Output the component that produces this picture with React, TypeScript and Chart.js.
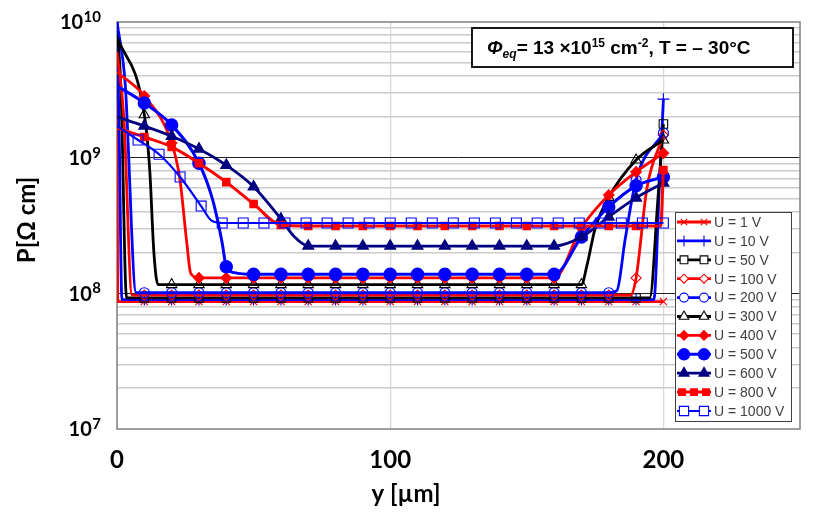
import React, { useEffect, useRef } from "react";
import { Chart, registerables } from "chart.js";
import { drawPoint } from "chart.js/helpers";

Chart.register(...registerables);

// ---------- data ----------
const X_TICKS = [0, 100, 200];
const Y_DECADES = [7, 8, 9, 10];

const MARKS_10 = [10, 20, 30, 40, 50, 60, 70, 80, 90, 100, 110, 120, 130, 140, 150, 160, 170, 180, 190, 200];
const MARKS_1000V = [7.7, 15.4, 23.1, 30.8, 38.5, 46.2, 53.8, 61.5, 69.2, 76.9, 84.6, 92.3, 100, 107.7, 115.4, 123.1, 130.8, 138.5, 146.2, 153.8, 161.5, 169.2, 176.9, 184.6, 192.3, 200];

const x_1V = [0, 0.3, 10, 20, 30, 40, 50, 60, 70, 80, 90, 100, 110, 120, 130, 140, 150, 160, 170, 180, 190, 200];
const y_1V = [5.5e9, 8.7e7, 8.7e7, 8.7e7, 8.7e7, 8.7e7, 8.7e7, 8.7e7, 8.7e7, 8.7e7, 8.7e7, 8.7e7, 8.7e7, 8.7e7, 8.7e7, 8.7e7, 8.7e7, 8.7e7, 8.7e7, 8.7e7, 8.7e7, 8.7e7];

const x_10V = [0, 0.8, 1.8, 10, 20, 30, 40, 50, 60, 70, 80, 90, 100, 110, 120, 130, 140, 150, 160, 170, 180, 190, 196.5, 198.5, 200];
const y_10V = [1e10, 1.5e9, 9.0e7, 9.0e7, 9.0e7, 9.0e7, 9.0e7, 9.0e7, 9.0e7, 9.0e7, 9.0e7, 9.0e7, 9.0e7, 9.0e7, 9.0e7, 9.0e7, 9.0e7, 9.0e7, 9.0e7, 9.0e7, 9.0e7, 9.0e7, 9.0e7, 6e8, 2.7e9];

const x_50V = [0, 1.5, 3.5, 10, 20, 30, 40, 50, 60, 70, 80, 90, 100, 110, 120, 130, 140, 150, 160, 170, 180, 190, 195, 198, 200];
const y_50V = [1e10, 3e9, 9.25e7, 9.25e7, 9.25e7, 9.25e7, 9.25e7, 9.25e7, 9.25e7, 9.25e7, 9.25e7, 9.25e7, 9.25e7, 9.25e7, 9.25e7, 9.25e7, 9.25e7, 9.25e7, 9.25e7, 9.25e7, 9.25e7, 9.25e7, 9.25e7, 5e8, 1.77e9];

const x_100V = [0, 2.5, 5.5, 10, 20, 30, 40, 50, 60, 70, 80, 90, 100, 110, 120, 130, 140, 150, 160, 170, 180, 188, 190, 194, 200];
const y_100V = [6e9, 2e9, 9.7e7, 9.7e7, 9.7e7, 9.7e7, 9.7e7, 9.7e7, 9.7e7, 9.7e7, 9.7e7, 9.7e7, 9.7e7, 9.7e7, 9.7e7, 9.7e7, 9.7e7, 9.7e7, 9.7e7, 9.7e7, 9.7e7, 9.7e7, 1.3e8, 6e8, 1.46e9];

const x_200V = [0, 3, 7, 10, 20, 30, 40, 50, 60, 70, 80, 90, 100, 110, 120, 130, 140, 150, 160, 170, 180, 183, 186, 190, 200];
const y_200V = [1e10, 3.5e9, 1.01e8, 1.01e8, 1.01e8, 1.01e8, 1.01e8, 1.01e8, 1.01e8, 1.01e8, 1.01e8, 1.01e8, 1.01e8, 1.01e8, 1.01e8, 1.01e8, 1.01e8, 1.01e8, 1.01e8, 1.01e8, 1.01e8, 1.05e8, 2.5e8, 6.85e8, 1.52e9];

const x_300V = [0, 10, 12, 13.5, 15, 20, 30, 40, 50, 60, 70, 80, 90, 100, 110, 120, 130, 140, 150, 160, 170, 172, 175, 180, 190, 200];
const y_300V = [7.75e9, 2.07e9, 8e8, 2e8, 1.16e8, 1.16e8, 1.16e8, 1.16e8, 1.16e8, 1.16e8, 1.16e8, 1.16e8, 1.16e8, 1.16e8, 1.16e8, 1.16e8, 1.16e8, 1.16e8, 1.16e8, 1.16e8, 1.16e8, 1.6e8, 3.0e8, 5.1e8, 9.6e8, 1.35e9];

const x_400V = [0, 10, 20, 23, 25.5, 27, 30, 40, 50, 60, 70, 80, 90, 100, 110, 120, 130, 140, 150, 160, 170, 180, 190, 200];
const y_400V = [4.28e9, 2.85e9, 1.28e9, 7e8, 2.4e8, 1.4e8, 1.3e8, 1.3e8, 1.3e8, 1.3e8, 1.3e8, 1.3e8, 1.3e8, 1.3e8, 1.3e8, 1.3e8, 1.3e8, 1.3e8, 1.3e8, 1.3e8, 3.05e8, 5.3e8, 7.85e8, 1.08e9];

const x_500V = [0, 10, 20, 30, 35, 38.5, 40, 43, 50, 60, 70, 80, 90, 100, 110, 120, 130, 140, 150, 160, 170, 180, 190, 200];
const y_500V = [3.38e9, 2.53e9, 1.74e9, 9.1e8, 4.9e8, 2.35e8, 1.57e8, 1.42e8, 1.38e8, 1.38e8, 1.38e8, 1.38e8, 1.38e8, 1.38e8, 1.38e8, 1.38e8, 1.38e8, 1.38e8, 1.38e8, 1.38e8, 2.6e8, 4.33e8, 6.2e8, 7.2e8];

const x_600V = [0, 10, 20, 30, 40, 50, 60, 65, 70, 80, 90, 100, 110, 120, 130, 140, 150, 160, 170, 180, 190, 200];
const y_600V = [2.0e9, 1.71e9, 1.44e9, 1.16e9, 8.8e8, 6.1e8, 3.53e8, 2.6e8, 2.23e8, 2.23e8, 2.23e8, 2.23e8, 2.23e8, 2.23e8, 2.23e8, 2.23e8, 2.23e8, 2.23e8, 2.6e8, 3.66e8, 5.05e8, 6.5e8];

const x_800V = [0, 10, 20, 30, 40, 50, 60, 70, 80, 90, 100, 110, 120, 130, 140, 150, 160, 170, 180, 190, 199, 200];
const y_800V = [1.66e9, 1.42e9, 1.2e9, 9.1e8, 6.6e8, 4.56e8, 3.19e8, 3.14e8, 3.14e8, 3.14e8, 3.14e8, 3.14e8, 3.14e8, 3.14e8, 3.14e8, 3.14e8, 3.14e8, 3.14e8, 3.14e8, 3.14e8, 3.14e8, 8.1e8];

const x_1000V = [0, 7.7, 15.4, 23.1, 30.8, 34.5, 38.5, 46.2, 53.8, 61.5, 69.2, 76.9, 84.6, 92.3, 100, 107.7, 115.4, 123.1, 130.8, 138.5, 146.2, 153.8, 161.5, 169.2, 176.9, 184.6, 192.3, 200];
const y_1000V = [1.71e9, 1.35e9, 1.06e9, 7.2e8, 4.4e8, 3.45e8, 3.3e8, 3.3e8, 3.3e8, 3.3e8, 3.3e8, 3.3e8, 3.3e8, 3.3e8, 3.3e8, 3.3e8, 3.3e8, 3.3e8, 3.3e8, 3.3e8, 3.3e8, 3.3e8, 3.3e8, 3.3e8, 3.3e8, 3.3e8, 3.3e8, 3.3e8];

const LABELS = ["U = 1 V", "U = 10 V", "U = 50 V", "U = 100 V", "U = 200 V", "U = 300 V", "U = 400 V", "U = 500 V", "U = 600 V", "U = 800 V", "U = 1000 V"];
const XS = [x_1V, x_10V, x_50V, x_100V, x_200V, x_300V, x_400V, x_500V, x_600V, x_800V, x_1000V];
const YS = [y_1V, y_10V, y_50V, y_100V, y_200V, y_300V, y_400V, y_500V, y_600V, y_800V, y_1000V];
const MARKS = [MARKS_10, MARKS_10, MARKS_10, MARKS_10, MARKS_10, MARKS_10, MARKS_10, MARKS_10, MARKS_10, MARKS_10, MARKS_1000V];

// ---------- styles ----------
const RED = "#ff0000";
const BLUE = "#0000ff";
const BLACK = "#000000";
const NAVY = "#000080";
const STYLES = [
  { color: RED, point: "crossRot", r: 5, filled: false, lw: 2.8, marks: 2 },
  { color: BLUE, point: "cross", r: 6, filled: false, lw: 2.8, marks: 2 },
  { color: BLACK, point: "rect", r: 6, filled: false, lw: 2.8, marks: 2 },
  { color: RED, point: "rectRot", r: 5, filled: false, lw: 2.8, marks: 2 },
  { color: BLUE, point: "circle", r: 5, filled: false, lw: 2.8, marks: 2 },
  { color: BLACK, point: "triangle", r: 6, filled: false, lw: 2.8, marks: 2 },
  { color: RED, point: "rectRot", r: 5, filled: true, lw: 2.8, marks: 2 },
  { color: BLUE, point: "circle", r: 6, filled: true, lw: 3.0, marks: 2 },
  { color: NAVY, point: "triangle", r: 6, filled: true, lw: 2.8, marks: 2 },
  { color: RED, point: "rect", r: 5, filled: true, lw: 3.0, marks: 3 },
  { color: BLUE, point: "rect", r: 7, filled: false, lw: 2.2, marks: 2 },
];

const TICK_FONT = "Lato";
const NOTE_FONT = "'Liberation Sans', Arial, sans-serif";

const decor = {
  id: "decor",
  beforeDatasetsDraw(chart: any) {
    const { ctx, chartArea: a } = chart;
    ctx.save();
    ctx.strokeStyle = "#808080";
    ctx.lineWidth = 1.5;
    ctx.strokeRect(a.left, a.top, a.right - a.left, a.bottom - a.top);
    ctx.restore();
  },
  afterDatasetsDraw(chart: any) {
    const { ctx } = chart;
    ctx.save();
    // annotation box
    ctx.fillStyle = "#ffffff";
    ctx.fillRect(472, 28, 321, 39);
    ctx.strokeStyle = "#000000";
    ctx.lineWidth = 1.8;
    ctx.strokeRect(472, 28, 321, 39);
    const parts: [string, string, number][] = [
      ["\u03A6", "italic bold 19px " + NOTE_FONT, 0],
      ["eq", "italic bold 12px " + NOTE_FONT, 4],
      ["= 13 \u00D710", "bold 19px " + NOTE_FONT, 0],
      ["15", "bold 12px " + NOTE_FONT, -7],
      [" cm", "bold 19px " + NOTE_FONT, 0],
      ["-2", "bold 12px " + NOTE_FONT, -7],
      [", T = \u2013 30\u00B0C", "bold 19px " + NOTE_FONT, 0],
    ];
    let tx = 487;
    ctx.fillStyle = "#000";
    ctx.textBaseline = "alphabetic";
    ctx.textAlign = "left";
    for (const [t, f, dy] of parts) {
      ctx.font = f;
      ctx.fillText(t, tx, 54 + dy);
      tx += ctx.measureText(t).width;
    }
    // legend
    const lx = 675, ly = 212, lw = 116, lh = 209;
    ctx.fillStyle = "#ffffff";
    ctx.fillRect(lx, ly, lw, lh);
    ctx.strokeStyle = "#404040";
    ctx.lineWidth = 1;
    ctx.strokeRect(lx + 0.5, ly + 0.5, lw, lh);
    chart.data.datasets.forEach((ds: any, i: number) => {
      const s = STYLES[i];
      const y = 222 + i * 18.9;
      ctx.strokeStyle = s.color;
      ctx.lineWidth = s.lw;
      ctx.beginPath();
      ctx.moveTo(677, y);
      ctx.lineTo(711, y);
      ctx.stroke();
      const xs = s.marks === 3 ? [682, 694, 706] : [684, 704];
      const bw = s.filled ? 1.5 : 1.1;
      for (const mx of xs) {
        ctx.fillStyle = s.filled ? s.color : "#ffffff";
        ctx.strokeStyle = s.color;
        ctx.lineWidth = bw;
        drawPoint(ctx, { pointStyle: s.point, radius: s.r - 0.5, rotation: 0, borderWidth: bw } as any, mx, y);
      }
      ctx.fillStyle = "#404040";
      ctx.font = "14px " + NOTE_FONT;
      ctx.textBaseline = "middle";
      ctx.textAlign = "left";
      ctx.fillText(ds.label, 714, y + 1);
    });
    ctx.restore();
  },
  afterDraw(chart: any) {
    const { ctx } = chart;
    const ys = chart.scales.y;
    ctx.save();
    ctx.fillStyle = "#000";
    ctx.textAlign = "right";
    ctx.textBaseline = "middle";
    for (const t of ys.ticks) {
      const e = Math.log10(t.value);
      if (Math.abs(e - Math.round(e)) > 1e-6) continue;
      const py = ys.getPixelForValue(t.value);
      const exp = String(Math.round(e));
      ctx.font = "bold 15px " + TICK_FONT;
      const ew = ctx.measureText(exp).width;
      ctx.fillText(exp, 101, py - 5);
      ctx.font = "bold 20px " + TICK_FONT;
      ctx.fillText("10", 101 - ew - 0.5, py + 1);
    }
    // axis titles
    ctx.font = "bold 24px " + TICK_FONT;
    ctx.textAlign = "center";
    ctx.fillText("y [\u00B5m]", 406, 494);
    ctx.translate(27, 220);
    ctx.rotate(-Math.PI / 2);
    ctx.fillText("P[\u03A9 cm]", 0, 0);
    ctx.restore();
  },
};

export default function App() {
  const ref = useRef<HTMLCanvasElement>(null);
  useEffect(() => {
    if (!ref.current) return;
    const datasets = LABELS.map((label, i) => {
      const s = STYLES[i];
      const xs = XS[i];
      const marks = MARKS[i];
      return {
        label,
        data: xs.map((x, j) => ({ x, y: YS[i][j] })),
        borderColor: s.color,
        backgroundColor: s.color,
        borderWidth: s.lw,
        pointStyle: s.point,
        pointRadius: (c: any) => (marks.includes(xs[c.dataIndex]) ? s.r : 0),
        pointHoverRadius: (c: any) => (marks.includes(xs[c.dataIndex]) ? s.r : 0),
        pointBorderColor: s.color,
        pointBackgroundColor: s.filled ? s.color : "rgba(0,0,0,0)",
        pointBorderWidth: s.filled ? 1.5 : 1.1,
        cubicInterpolationMode: "monotone",
        fill: false,
        order: LABELS.length - i,
      };
    });
    const chart = new Chart(ref.current, {
      type: "line",
      data: { datasets } as any,
      options: {
        animation: false,
        responsive: true,
        maintainAspectRatio: false,
        events: [],
        layout: { padding: { left: 0, top: 22, right: 31, bottom: 0 } },
        plugins: { legend: { display: false }, tooltip: { enabled: false } },
        scales: {
          x: {
            type: "linear",
            min: 0,
            max: 250,
            afterBuildTicks: (sc: any) => {
              sc.ticks = X_TICKS.map((v) => ({ value: v }));
            },
            afterFit: (sc: any) => {
              sc.height = 93;
            },
            ticks: {
              font: { family: TICK_FONT, size: 24, weight: "bold" },
              color: "#000",
              padding: 17,
              maxRotation: 0,
            },
            grid: {
              drawTicks: false,
              color: (c: any) => (c.tick && c.tick.value === 0 ? "rgba(0,0,0,0)" : "#d9d9d9"),
              lineWidth: 1.3,
            },
            border: { display: false },
          },
          y: {
            type: "logarithmic",
            min: 1e7,
            max: 1e10,
            afterBuildTicks: (sc: any) => {
              const t: any[] = [];
              Y_DECADES.forEach((d) => {
                if (d === 10) {
                  t.push({ value: Math.pow(10, d) });
                  return;
                }
                for (let m = 1; m <= 9; m++) t.push({ value: m * Math.pow(10, d) });
              });
              sc.ticks = t;
            },
            afterFit: (sc: any) => {
              sc.width = 117;
            },
            ticks: { display: false },
            grid: {
              drawTicks: false,
              color: (c: any) => {
                const v = c.tick ? c.tick.value : 1;
                const e = Math.log10(v);
                const major = Math.abs(e - Math.round(e)) < 1e-6;
                if (major) {
                  const r = Math.round(e);
                  if (r === 7 || r === 10) return "rgba(0,0,0,0)";
                  return "#222222";
                }
                return "#cccccc";
              },
              lineWidth: (c: any) => {
                const v = c.tick ? c.tick.value : 1;
                const e = Math.log10(v);
                return Math.abs(e - Math.round(e)) < 1e-6 ? 1 : 1.5;
              },
            },
            border: { display: false },
          },
        },
      } as any,
      plugins: [decor],
    });
    (document as any).fonts?.ready?.then(() => chart.draw());
    return () => chart.destroy();
  }, []);
  return (
    <div style={{ position: "fixed", left: 0, top: 0, width: 831, height: 522, background: "#fff" }}>
      <canvas ref={ref} />
    </div>
  );
}
